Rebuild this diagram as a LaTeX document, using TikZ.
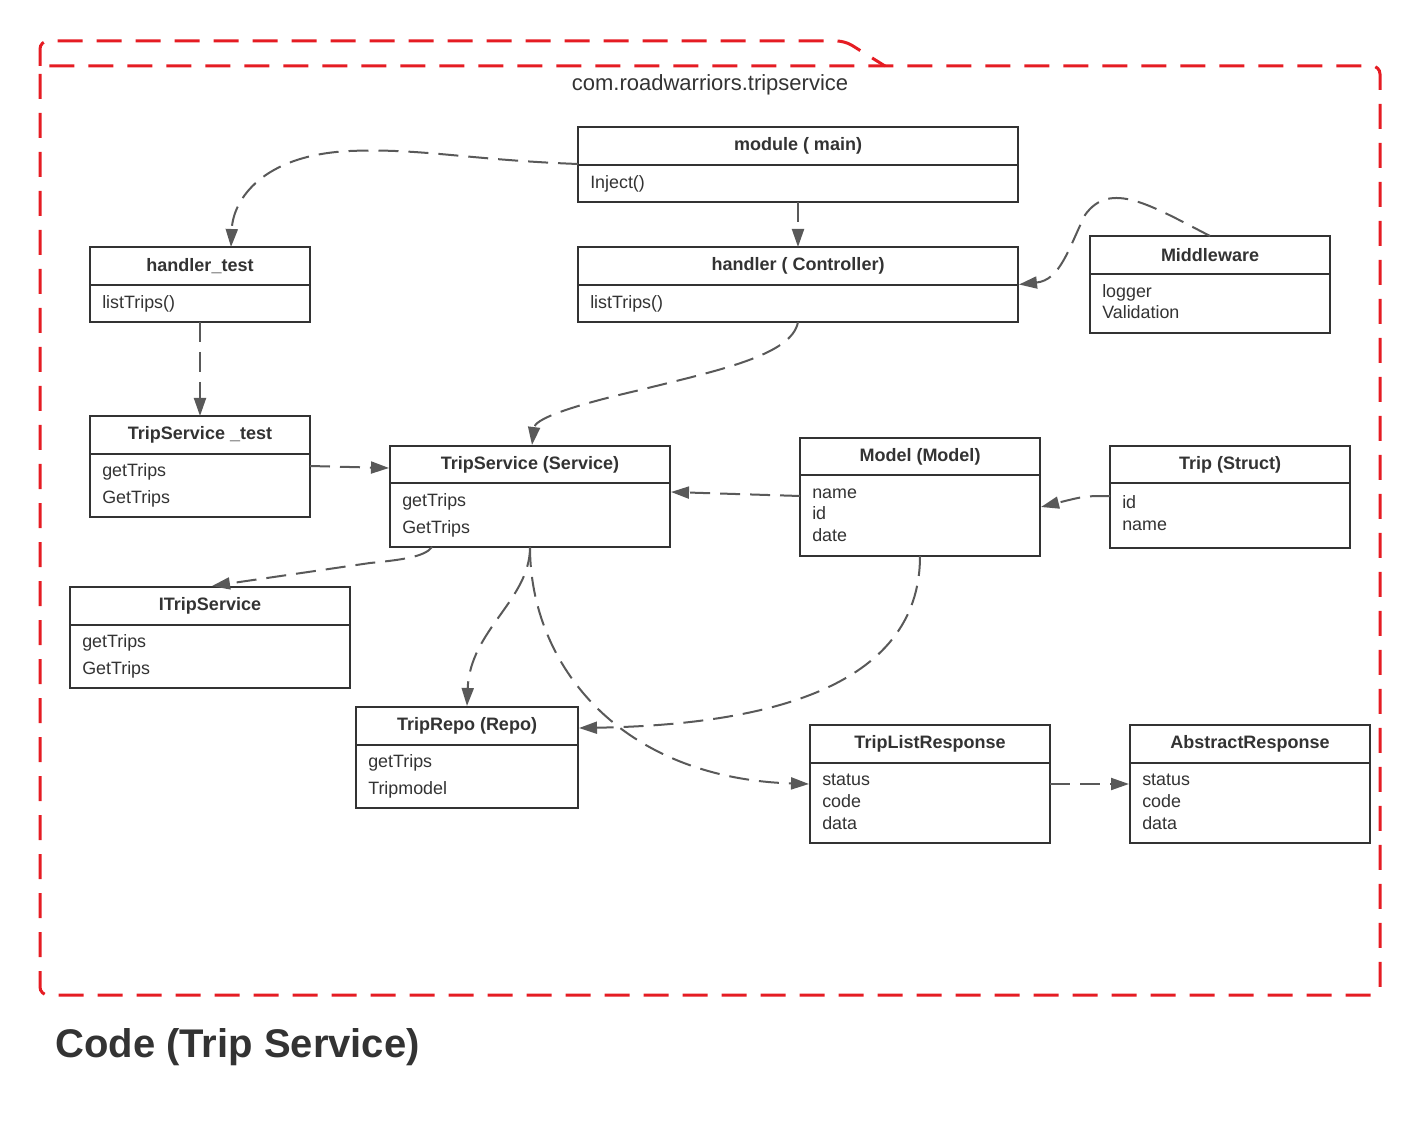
\documentclass[tikz,border=0pt]{standalone}
\usepackage{fontspec}
\setmainfont{Liberation Sans}
\usetikzlibrary{arrows.meta,calc}
\definecolor{ink}{HTML}{333333}
\definecolor{wire}{HTML}{595959}
\definecolor{pkgred}{HTML}{E51C23}

\tikzset{
  boxframe/.style={draw=ink, line width=1.5pt, fill=white, inner sep=0pt, outer sep=0pt},
  rule/.style={draw=ink, line width=1.5pt},
  hdr/.style={text=ink, inner sep=0pt, font=\fontsize{13.5}{15}\selectfont\bfseries},
  item/.style={text=ink, inner sep=0pt, anchor=mid west, font=\fontsize{13.4}{15}\selectfont},
  conn/.style={draw=wire, line width=1.5pt, dash pattern=on 15pt off 7.5pt,
    -{Triangle[length=13.5pt,width=9pt]}},
  pkg/.style={draw=pkgred, line width=2.25pt, dash pattern=on 18.75pt off 10.5pt,
    rounded corners=6pt},
}

% class box: name, x1, y1, x2, y2, divider y, title
\newcommand\classbox[7]{%
  \node[boxframe, minimum width={(#4-#2)*0.75pt}, minimum height={(#5-#3)*0.75pt}]
    (#1) at ({(#2+#4)/2},{(#3+#5)/2}) {};
  \draw[rule] (#2,#6) -- (#4,#6);
  \node[hdr] (#1-title) at ({(#2+#4)/2},{(#3+#6)/2}) {#7};
}

\begin{document}
\begin{tikzpicture}[x=0.75pt, y=-0.75pt]
\useasboundingbox (0,0) rectangle (1421,1130);

% package frame with its tab
\draw[pkg] (40,66) -- (40,41) -- (845,41) -- (885,66);
\draw[pkg] (40,66) rectangle (1380,995);
\node[text=ink, inner sep=0pt, font=\fontsize{16.5}{18}\selectfont] (pkgname) at (710,85) {com.roadwarriors.tripservice};

% classes
\classbox{module}{578}{127}{1018}{202}{165}{module ( main)}
\node[item] (module-a) at (590,185) {Inject()};

\classbox{htest}{90}{247}{310}{322}{285}{handler\_test}
\node[item] (htest-a) at (102,305) {listTrips()};

\classbox{ctrl}{578}{247}{1018}{322}{285}{handler ( Controller)}
\node[item] (ctrl-a) at (590,305) {listTrips()};

\classbox{mw}{1090}{236}{1330}{333}{274}{Middleware}
\node[item] (mw-a) at (1102,294) {logger};
\node[item] (mw-b) at (1102,315) {Validation};

\classbox{tstest}{90}{416}{310}{517}{454}{TripService \_test}
\node[item] (tstest-a) at (102,473) {getTrips};
\node[item] (tstest-b) at (102,500) {GetTrips};

\classbox{svc}{390}{446}{670}{547}{483}{TripService (Service)}
\node[item] (svc-a) at (402,503) {getTrips};
\node[item] (svc-b) at (402,530) {GetTrips};

\classbox{model}{800}{438}{1040}{556}{475}{Model (Model)}
\node[item] (model-a) at (812,495) {name};
\node[item] (model-b) at (812,516) {id};
\node[item] (model-c) at (812,538) {date};

\classbox{trip}{1110}{446}{1350}{548}{483}{Trip (Struct)}
\node[item] (trip-a) at (1122,505) {id};
\node[item] (trip-b) at (1122,527) {name};

\classbox{itrip}{70}{587}{350}{688}{625}{ITripService}
\node[item] (itrip-a) at (82,644) {getTrips};
\node[item] (itrip-b) at (82,671) {GetTrips};

\classbox{repo}{356}{707}{578}{808}{745}{TripRepo (Repo)}
\node[item] (repo-a) at (368,764) {getTrips};
\node[item] (repo-b) at (368,791) {Tripmodel};

\classbox{tlr}{810}{725}{1050}{843}{763}{TripListResponse}
\node[item] (tlr-a) at (822,782) {status};
\node[item] (tlr-b) at (822,804) {code};
\node[item] (tlr-c) at (822,826) {data};

\classbox{abs}{1130}{725}{1370}{843}{763}{AbstractResponse}
\node[item] (abs-a) at (1142,782) {status};
\node[item] (abs-b) at (1142,804) {code};
\node[item] (abs-c) at (1142,826) {data};

% dependencies
\draw[conn] ($(module.north west)+(0,37)$) .. controls (470,160) and (420,148) .. (350,151)
  .. controls (262,155) and (233,200) .. ($(htest.north)+(31,0)$);
\draw[conn] (module.south) -- (ctrl.north);
\draw[conn] (mw.north) .. controls (1150,205) and (1110,180) .. (1085,215)
  .. controls (1068,250) and (1060,280) .. ($(ctrl.east)+(1,0)$);
\draw[conn] (htest.south) -- (tstest.north);
\draw[conn] (ctrl.south) .. controls (792,355) and (720,370) .. (640,390)
  .. controls (562,408) and (535,420) .. ($(svc.north)+(2,-1)$);
\draw[conn] ($(tstest.north east)+(0,50)$) -- ($(svc.north west)+(-1,22)$);
\draw[conn] ($(model.north west)+(0,58)$) -- ($(svc.north east)+(1,46)$);
\draw[conn] ($(trip.north west)+(0,50)$) .. controls (1085,496) .. ($(model.north east)+(1,69)$);
\draw[conn] ($(svc.south west)+(42,0)$) .. controls (425,557) and (400,560) .. (370,563)
  -- ($(itrip.north)+(2,-1)$);
\draw[conn] (svc.south) .. controls (530,600) and (470,630) .. ($(repo.north)+(0,-1)$);
\draw[conn] (svc.south) .. controls (530,665) and (620,778) .. ($(tlr.west)+(-1,0)$);
\draw[conn] (model.south) .. controls (920,690) and (760,725) .. ($(repo.north east)+(1,21)$);
\draw[conn] (tlr.east) -- ($(abs.west)+(-1,0)$);

% caption
\node[text=ink, inner sep=0pt, anchor=base west, font=\fontsize{30}{32}\selectfont\bfseries]
  (caption) at (55,1057) {Code (Trip Service)};
\end{tikzpicture}
\end{document}
